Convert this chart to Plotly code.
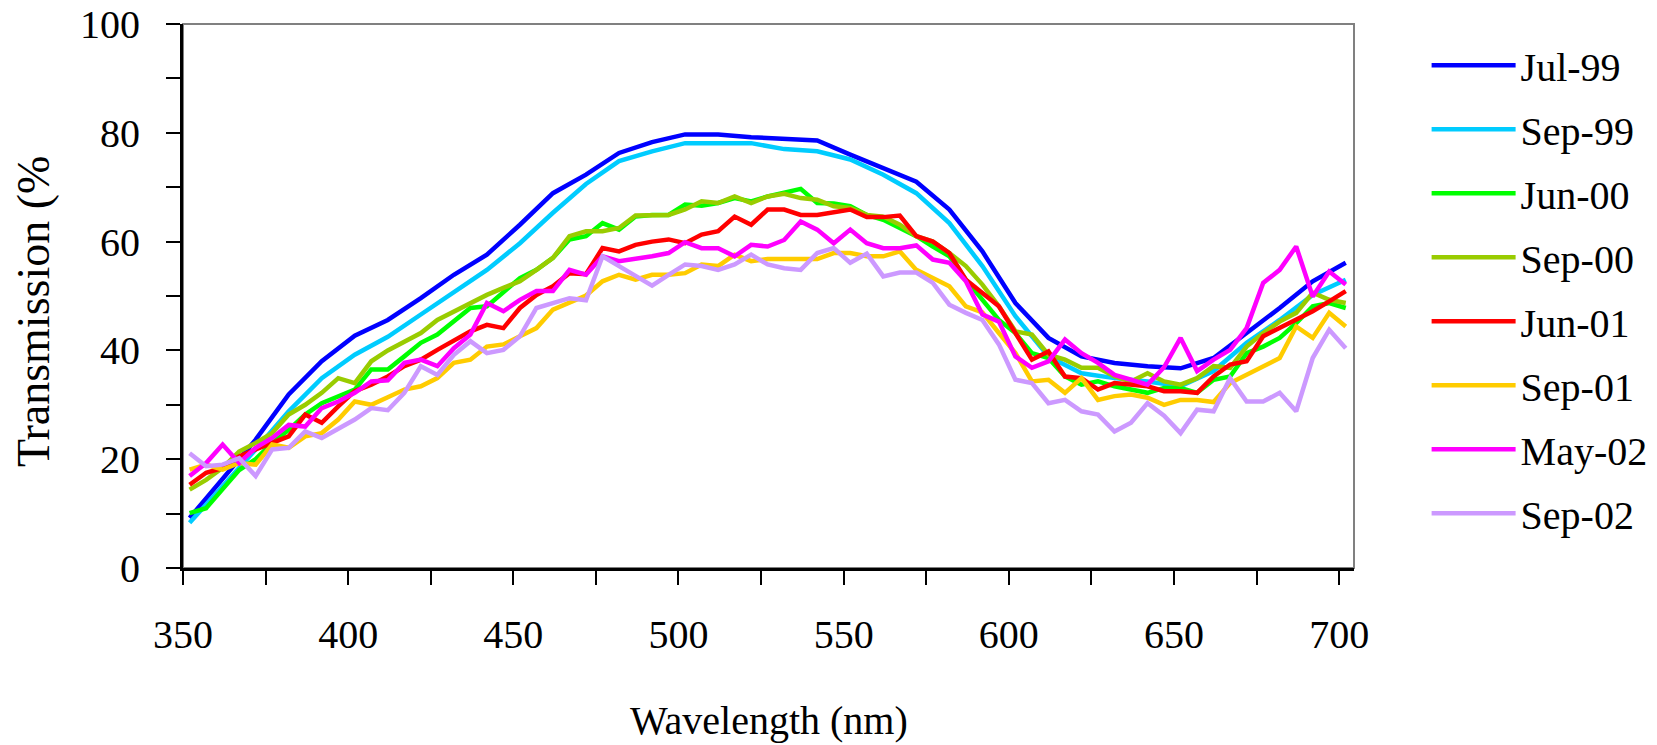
import plotly.graph_objects as go

# Wavelengths (nm)
wl_10 = list(range(352, 703, 10))   # 10-nm sampled series
wl_5 = list(range(352, 703, 5))     # 5-nm sampled series

series_names = ["Jul-99", "Sep-99", "Jun-00", "Sep-00", "Jun-01", "Sep-01", "May-02", "Sep-02"]
series_colors = ["#0000FF", "#00CCFF", "#00FF00", "#99CC00", "#FF0000", "#FFCC00", "#FF00FF", "#CC99FF"]

jul99 = [9.2, 16.5, 23.6, 31.9, 38.0, 42.7, 45.6, 49.6, 53.9, 57.6, 63.1, 68.9,
         72.3, 76.3, 78.3, 79.7, 79.7, 79.2, 79.0, 78.6, 76.0, 73.5, 71.0, 65.9,
         58.2, 48.7, 42.3, 38.9, 37.7, 37.1, 36.7, 38.6, 43.2, 47.8, 52.7, 56.1]

sep99 = [8.3, 15.0, 21.8, 28.8, 34.9, 39.2, 42.5, 46.6, 50.7, 54.8, 59.7, 65.3,
         70.6, 74.8, 76.6, 78.1, 78.1, 78.1, 77.0, 76.6, 75.1, 72.3, 68.9, 63.4,
         55.5, 46.3, 38.9, 35.8, 34.9, 34.3, 33.4, 36.2, 41.4, 45.6, 50.2, 53.0]

jun00 = [10.1, 11.0, 14.5, 18.0, 20.0, 23.0, 25.4, 28.2, 30.3, 31.6, 32.8, 36.5, 36.5,
         38.9, 41.4, 42.9, 45.3, 47.8, 48.1, 50.8, 53.3, 54.8, 57.0, 60.4, 61.0,
         63.4, 62.2, 64.6, 64.9, 64.9, 66.8, 66.6, 67.1, 68.0, 67.4, 68.3, 68.9,
         69.7, 67.1, 67.0, 66.5, 64.9, 64.0, 62.5, 61.0, 59.1, 57.3, 53.0, 49.3,
         45.6, 43.2, 39.5, 38.6, 35.2, 33.7, 34.3, 33.4, 32.8, 32.2, 33.1, 33.1,
         32.2, 34.6, 35.2, 39.5, 40.7, 42.3, 45.0, 48.1, 48.7, 47.8]

sep00 = [14.4, 16.2, 18.4, 21.4, 23.0, 24.8, 28.2, 30.0, 32.2, 34.9, 34.0, 38.0, 40.0,
         41.7, 43.2, 45.6, 47.2, 48.7, 50.2, 51.5, 52.7, 54.8, 57.0, 61.0, 61.9,
         61.9, 62.5, 64.8, 64.9, 64.9, 65.9, 67.4, 67.1, 68.3, 67.1, 68.3, 68.8,
         68.0, 67.7, 66.5, 66.2, 64.9, 64.6, 63.1, 61.0, 60.0, 57.9, 55.5, 52.1,
         48.1, 43.5, 42.9, 39.2, 38.3, 36.8, 36.8, 35.2, 34.3, 35.8, 34.3, 33.7,
         34.9, 37.1, 36.8, 40.7, 43.2, 45.3, 46.9, 50.6, 49.3, 48.7]

jun01 = [15.3, 17.5, 18.4, 20.5, 21.8, 23.0, 24.2, 28.2, 26.7, 29.7, 32.5, 33.7, 35.2,
         37.1, 38.3, 40.1, 41.7, 43.5, 44.7, 44.1, 47.8, 50.2, 51.8, 54.2, 54.0,
         58.8, 58.2, 59.4, 60.0, 60.4, 59.7, 61.3, 61.9, 64.6, 63.1, 65.9, 65.9,
         64.9, 64.9, 65.4, 65.9, 64.5, 64.5, 64.8, 61.0, 60.0, 57.9, 53.0, 50.5,
         48.1, 43.2, 38.3, 39.8, 35.2, 34.9, 32.8, 34.0, 33.7, 33.4, 32.5, 32.5,
         32.2, 35.2, 37.4, 38.0, 42.6, 44.1, 45.6, 47.2, 49.0, 50.9]

sep01 = [18.1, 19.0, 18.1, 19.3, 19.0, 22.7, 22.1, 24.2, 24.8, 27.3, 30.6, 30.0, 31.4,
         32.8, 33.4, 34.9, 37.7, 38.3, 40.7, 41.1, 42.6, 44.1, 47.5, 48.7, 50.1,
         52.7, 53.9, 53.0, 53.9, 53.9, 54.2, 55.8, 55.5, 57.6, 56.4, 56.8, 56.8,
         56.8, 56.8, 57.9, 57.9, 57.3, 57.3, 58.2, 54.8, 53.3, 51.8, 48.1, 47.0,
         43.2, 39.5, 34.3, 34.6, 32.2, 34.9, 30.9, 31.6, 31.9, 31.3, 30.0, 30.9,
         30.9, 30.5, 34.0, 35.5, 37.1, 38.6, 44.4, 42.3, 46.9, 44.4]

may02 = [16.9, 19.3, 22.7, 19.3, 22.1, 23.9, 26.3, 26.0, 29.4, 30.6, 32.2, 34.3, 34.5,
         37.7, 38.3, 37.1, 40.4, 42.9, 48.7, 47.2, 49.3, 50.9, 50.9, 54.8, 53.9,
         57.3, 56.4, 56.8, 57.3, 57.9, 59.9, 58.8, 58.8, 57.3, 59.4, 59.1, 60.3,
         63.7, 62.2, 59.7, 62.2, 59.7, 58.8, 58.8, 59.3, 56.7, 56.1, 52.7, 46.6,
         45.3, 38.9, 36.8, 38.0, 42.0, 39.5, 37.7, 35.5, 34.6, 33.7, 36.9, 42.3,
         36.2, 38.3, 40.1, 44.1, 52.4, 54.8, 59.1, 49.9, 54.5, 52.1]

sep02 = [21.1, 18.7, 19.0, 20.2, 16.9, 21.8, 22.1, 25.1, 23.9, 25.7, 27.3, 29.4, 29.0,
         32.2, 37.1, 35.5, 39.2, 41.7, 39.5, 40.1, 42.6, 47.8, 48.7, 49.6, 49.2,
         57.3, 55.5, 53.6, 51.9, 53.9, 55.8, 55.5, 54.8, 55.8, 57.6, 55.8, 55.1,
         54.8, 57.9, 58.8, 56.1, 57.8, 53.6, 54.3, 54.3, 52.4, 48.4, 46.9, 45.6,
         41.1, 34.6, 34.0, 30.3, 30.9, 28.8, 28.2, 25.1, 26.7, 30.3, 28.0, 24.8,
         29.1, 28.8, 34.9, 30.6, 30.6, 32.2, 28.8, 38.6, 43.8, 40.4]

series_x = [wl_10, wl_10, wl_5, wl_5, wl_5, wl_5, wl_5, wl_5]
series_y = [jul99, sep99, jun00, sep00, jun01, sep01, may02, sep02]

x_tickvals = list(range(350, 701, 25))
x_ticktext = [str(v) if v % 50 == 0 else "" for v in x_tickvals]
y_tickvals = list(range(0, 101, 10))
y_ticktext = [str(v) if v % 20 == 0 else "" for v in y_tickvals]

FONT = "Liberation Serif, Times New Roman, serif"

fig = go.Figure()
for i, (name, color, xs, ys) in enumerate(zip(series_names, series_colors, series_x, series_y)):
    fig.add_trace(go.Scatter(
        x=xs, y=ys, mode="lines", name=name,
        line=dict(color=color, width=4.5),
        legendgroup=f"g{i}",
    ))

fig.add_shape(type="rect", xref="paper", yref="paper", x0=0, y0=0, x1=1, y1=1,
              line=dict(color="#808080", width=2), layer="below")

fig.update_layout(
    width=1657, height=745,
    margin=dict(l=183, r=303, t=24, b=177, autoexpand=False),
    paper_bgcolor="white", plot_bgcolor="white",
    font=dict(family=FONT, size=40, color="black"),
    showlegend=True,
    legend=dict(
        x=1.062, y=0.984, xanchor="left", yanchor="top",
        font=dict(family=FONT, size=40, color="black"),
        itemwidth=84, tracegroupgap=9, bgcolor="rgba(0,0,0,0)",
        traceorder="grouped",
    ),
    xaxis=dict(
        range=[350, 704.5], tickmode="array", tickvals=x_tickvals, ticktext=x_ticktext,
        ticks="outside", ticklen=14, tickwidth=2, tickcolor="black",
        showline=True, linecolor="black", linewidth=3, automargin=False,
        showgrid=False, zeroline=False, ticklabelstandoff=15,
        tickfont=dict(family=FONT, size=40, color="black"),
    ),
    yaxis=dict(
        range=[0, 100], tickmode="array", tickvals=y_tickvals, ticktext=y_ticktext,
        ticks="outside", ticklen=14, tickwidth=2, tickcolor="black",
        showline=True, linecolor="black", linewidth=3, automargin=False,
        showgrid=False, zeroline=False, ticklabelstandoff=18,
        tickfont=dict(family=FONT, size=40, color="black"),
    ),
    annotations=[
        dict(text="Wavelength (nm)", xref="paper", yref="paper", x=0.5, y=-0.325,
             xanchor="center", yanchor="bottom", showarrow=False,
             font=dict(family=FONT, size=40, color="black")),
        dict(text="Transmission (%", xref="paper", yref="paper", x=-0.1272, y=0.4706,
             xanchor="center", yanchor="middle", showarrow=False, textangle=-90,
             font=dict(family=FONT, size=46, color="black")),
    ],
)

fig.write_html("out.html", config={"displayModeBar": False},
               post_script="document.body.style.margin='0px';")
